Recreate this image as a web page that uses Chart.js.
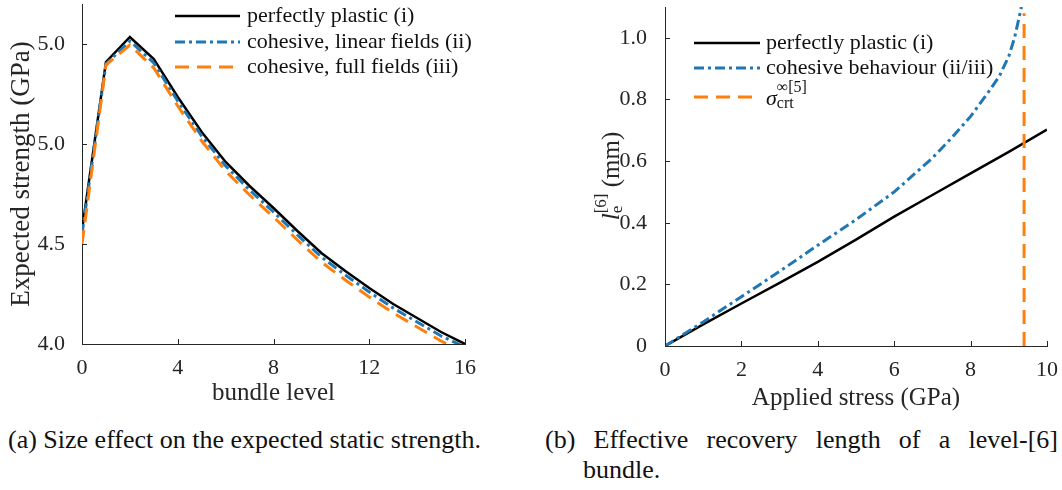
<!DOCTYPE html>
<html>
<head>
<meta charset="utf-8">
<script src="https://cdn.jsdelivr.net/npm/chart.js@4.4.0/dist/chart.umd.min.js"></script>
<style>
  body { margin: 0; background: #fff; width: 1062px; height: 490px; position: relative; overflow: hidden; font-family: "Liberation Serif", serif; }
  .box { position: absolute; top: 0; width: 531px; height: 420px; }
  .cap { position: absolute; font-size: 26px; line-height: 30px; color: #111; }
</style>
</head>
<body>
<div class="box" style="left:0"><canvas id="strengthChart" width="531" height="420"></canvas></div>
<div class="box" style="left:531px"><canvas id="lengthChart" width="531" height="420"></canvas></div>
<div class="cap" style="left:8px;top:425px;white-space:nowrap">(a) Size effect on the expected static strength.</div>
<div class="cap" style="left:545px;top:425px;width:475px;padding-left:38px;text-indent:-38px;text-align:justify">(b) Effective recovery length of a level-[6] bundle.</div>
<script>
// (a) expected strength per bundle level
var levels = [0, 1, 2, 3, 4, 5, 6, 7, 8, 9, 10, 11, 12, 13, 14, 15, 16];
var plasticStrength = [4.57, 5.41, 5.535, 5.425, 5.235, 5.06, 4.91, 4.79, 4.68, 4.565, 4.455, 4.365, 4.28, 4.2, 4.13, 4.06, 4.0];
var linearStrength  = [4.55, 5.40, 5.515, 5.405, 5.215, 5.04, 4.89, 4.77, 4.66, 4.545, 4.435, 4.345, 4.26, 4.18, 4.11, 4.04, 3.985];
var fullStrength    = [4.50, 5.395, 5.495, 5.38, 5.19, 5.015, 4.865, 4.745, 4.635, 4.52, 4.41, 4.32, 4.235, 4.155, 4.085, 4.015, 3.955];
var strengthTicks = [4.0, 4.5, 5.0, 5.5];
var strengthTickLabels = ['4.0', '4.5', '5.0', '5.0'];

// (b) effective recovery length vs applied stress
var stress = [0, 1, 2, 3, 4, 5, 6, 7, 8, 9, 10];
var plasticLength = [0, 0.07, 0.138, 0.205, 0.273, 0.345, 0.42, 0.49, 0.56, 0.63, 0.702];
var cohesiveStress = [0, 1, 2, 3, 4, 5, 6, 7, 7.5, 8, 8.5, 8.75, 9, 9.15, 9.25, 9.33];
var cohesiveLength = [0, 0.078, 0.16, 0.242, 0.327, 0.41, 0.50, 0.61, 0.675, 0.745, 0.83, 0.875, 0.94, 1.0, 1.055, 1.1];
var critStress = 9.4;
var lengthTicks = [0, 0.2, 0.4, 0.6, 0.8, 1.0];
var lengthTickLabels = ['0', '0.2', '0.4', '0.6', '0.8', '1.0'];

var FONT = '"Liberation Serif", serif';
var AXIS = '#262626';
var BLUE = '#1f77b4';
var ORANGE = '#ff7f0e';

Chart.defaults.font.family = FONT;
Chart.defaults.font.size = 22;
Chart.defaults.color = '#262626';

function pts(xs, ys) {
    return xs.map(function (x, i) { return { x: x, y: ys[i] }; });
}

// text with sub/superscripts; a part with stack:true does not move the pen
function drawParts(ctx, parts, x, y, draw) {
    var cx = x, pending = 0;
    parts.forEach(function (p) {
        ctx.font = (p.it ? 'italic ' : '') + p.size + 'px ' + FONT;
        if (draw) ctx.fillText(p.t, cx, y + (p.dy || 0));
        var w = ctx.measureText(p.t).width;
        if (p.stack) { pending = w; } else { cx += Math.max(w, pending); pending = 0; }
    });
    return cx - x;
}

var inwardTicks = {
    id: 'inwardTicks',
    afterDraw: function (chart) {
        var ctx = chart.ctx, a = chart.chartArea, sx = chart.scales.x, sy = chart.scales.y;
        ctx.save();
        ctx.strokeStyle = AXIS;
        ctx.lineWidth = 1;
        sx.ticks.forEach(function (t, i) {
            var p = Math.round(sx.getPixelForTick(i)) + 0.5;
            ctx.beginPath(); ctx.moveTo(p, a.bottom); ctx.lineTo(p, a.bottom - 5); ctx.stroke();
        });
        sy.ticks.forEach(function (t, i) {
            var p = Math.round(sy.getPixelForTick(i)) + 0.5;
            ctx.beginPath(); ctx.moveTo(a.left, p); ctx.lineTo(a.left + 5, p); ctx.stroke();
        });
        ctx.restore();
    }
};

var richLegend = {
    id: 'richLegend',
    afterDraw: function (chart, args, opts) {
        if (!opts.rows) return;
        var ctx = chart.ctx;
        ctx.save();
        ctx.textAlign = 'left';
        ctx.textBaseline = 'middle';
        ctx.fillStyle = '#111';
        opts.rows.forEach(function (r) {
            var ds = chart.data.datasets[r.ds];
            ctx.strokeStyle = ds.borderColor;
            ctx.lineWidth = ds.borderWidth;
            ctx.setLineDash(ds.borderDash || []);
            ctx.beginPath(); ctx.moveTo(opts.x1, r.y); ctx.lineTo(opts.x2, r.y); ctx.stroke();
            ctx.setLineDash([]);
            drawParts(ctx, r.parts, opts.tx, r.y, true);
        });
        ctx.restore();
    }
};

var yTitleRich = {
    id: 'yTitleRich',
    afterDraw: function (chart, args, opts) {
        if (!opts.parts) return;
        var ctx = chart.ctx;
        ctx.save();
        ctx.fillStyle = '#262626';
        ctx.textAlign = 'left';
        ctx.textBaseline = 'middle';
        ctx.translate(opts.cx, opts.cy);
        ctx.rotate(-Math.PI / 2);
        var w = drawParts(ctx, opts.parts, 0, 0, false);
        drawParts(ctx, opts.parts, -w / 2, 0, true);
        ctx.restore();
    }
};

var baseScale = {
    type: 'linear',
    grid: { display: false },
    border: { color: AXIS, width: 1 }
};

function fixX(h) {
    return function (s) { s.height = h; s.paddingLeft = 0; s.paddingRight = 0; };
}
function fixY(w) {
    return function (s) { s.width = w; s.paddingTop = 0; s.paddingBottom = 0; };
}

new Chart(document.getElementById('strengthChart'), {
    type: 'line',
    data: {
        datasets: [
            { label: 'perfectly plastic (i)', data: pts(levels, plasticStrength), borderColor: '#000', borderWidth: 2.5, order: 3 },
            { label: 'cohesive, linear fields (ii)', data: pts(levels, linearStrength), borderColor: BLUE, borderWidth: 3, borderDash: [10, 4, 3, 4], order: 2 },
            { label: 'cohesive, full fields (iii)', data: pts(levels, fullStrength), borderColor: ORANGE, borderWidth: 3, borderDash: [14, 8], order: 1 }
        ]
    },
    options: {
        responsive: false,
        animation: false,
        layout: { padding: { top: 4, right: 66, left: 0, bottom: 0 } },
        elements: { point: { radius: 0 }, line: { tension: 0 } },
        plugins: {
            legend: { display: false },
            tooltip: { enabled: false },
            richLegend: {
                x1: 175, x2: 240, tx: 247,
                rows: [
                    { ds: 0, y: 16, parts: [{ t: 'perfectly plastic (i)', size: 22 }] },
                    { ds: 1, y: 42, parts: [{ t: 'cohesive, linear fields (ii)', size: 22 }] },
                    { ds: 2, y: 67, parts: [{ t: 'cohesive, full fields (iii)', size: 22 }] }
                ]
            }
        },
        scales: {
            x: Object.assign({}, baseScale, {
                min: 0, max: 16,
                ticks: { stepSize: 4, padding: 3 },
                title: { display: true, text: 'bundle level', font: { size: 25 }, padding: { top: 0, bottom: 12 } },
                afterFit: fixX(76)
            }),
            y: Object.assign({}, baseScale, {
                min: 4, max: 5.7,
                ticks: {
                    stepSize: 0.5, includeBounds: false, padding: 9,
                    callback: function (v) {
                        var i = strengthTicks.findIndex(function (t) { return Math.abs(t - v) < 1e-6; });
                        return i < 0 ? '' : strengthTickLabels[i];
                    }
                },
                title: { display: true, text: 'Expected strength (GPa)', font: { size: 27 }, padding: { top: 6, bottom: 0 } },
                afterFit: fixY(82)
            })
        }
    },
    plugins: [inwardTicks, richLegend]
});

new Chart(document.getElementById('lengthChart'), {
    type: 'line',
    data: {
        datasets: [
            { label: 'perfectly plastic (i)', data: pts(stress, plasticLength), borderColor: '#000', borderWidth: 2.5, order: 3 },
            { label: 'cohesive behaviour (ii/iii)', data: pts(cohesiveStress, cohesiveLength), borderColor: BLUE, borderWidth: 3, borderDash: [10, 4, 3, 4], order: 2 },
            { label: 'sigma crt', data: [{ x: critStress, y: 0 }, { x: critStress, y: 1.08 }], borderColor: ORANGE, borderWidth: 3, borderDash: [14, 8], order: 1 }
        ]
    },
    options: {
        responsive: false,
        animation: false,
        layout: { padding: { top: 7, right: 15, left: 0, bottom: 0 } },
        elements: { point: { radius: 0 }, line: { tension: 0 } },
        plugins: {
            legend: { display: false },
            tooltip: { enabled: false },
            richLegend: {
                x1: 163, x2: 229, tx: 235,
                rows: [
                    { ds: 0, y: 43, parts: [{ t: 'perfectly plastic (i)', size: 22 }] },
                    { ds: 1, y: 68, parts: [{ t: 'cohesive behaviour (ii/iii)', size: 22 }] },
                    { ds: 2, y: 97, parts: [
                        { t: 'σ', size: 22, it: true, dy: 2 },
                        { t: '∞[5]', size: 16, dy: -9, stack: true },
                        { t: 'crt', size: 16, dy: 7 }
                    ] }
                ]
            },
            yTitleRich: {
                cx: 81, cy: 176,
                parts: [
                    { t: 'l', size: 25, it: true },
                    { t: '[6]', size: 17, dy: -10, stack: true },
                    { t: 'e', size: 17, dy: 6 },
                    { t: ' (mm)', size: 25 }
                ]
            }
        },
        scales: {
            x: Object.assign({}, baseScale, {
                min: 0, max: 10,
                ticks: { stepSize: 2, padding: 3 },
                title: { display: true, text: 'Applied stress (GPa)', font: { size: 25 }, padding: { top: 0, bottom: 7 } },
                afterFit: fixX(74)
            }),
            y: Object.assign({}, baseScale, {
                min: 0, max: 1.1,
                ticks: {
                    stepSize: 0.2, includeBounds: false, padding: 10,
                    callback: function (v) {
                        var i = lengthTicks.findIndex(function (t) { return Math.abs(t - v) < 1e-6; });
                        return i < 0 ? '' : lengthTickLabels[i];
                    }
                },
                afterFit: fixY(134)
            })
        }
    },
    plugins: [inwardTicks, richLegend, yTitleRich]
});
</script>
</body>
</html>
